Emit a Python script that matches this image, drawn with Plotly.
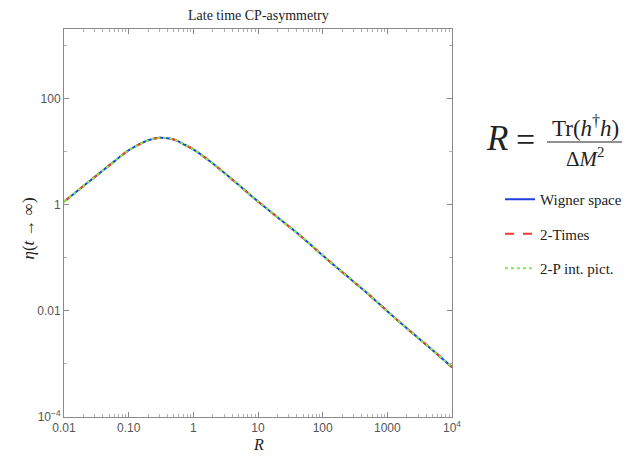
import plotly.graph_objects as go

# values
R_vals = [0.01, 0.02, 0.05, 0.1, 0.15, 0.2, 0.3, 0.5, 0.7, 1, 2, 5, 10, 20, 50,
          100, 200, 500, 1000, 2000, 5000, 10000]
eta_vals = [1.14, 2.25, 5.5, 10.6, 14.0, 16.4, 18.3, 16.9, 13.9, 11.0, 5.96, 2.37,
            1.15, 0.58, 0.234, 0.111, 0.0537, 0.0211, 0.0098, 0.00468, 0.00182, 0.00087]

x_tickvals = [0.01, 0.1, 1, 10, 100, 1000, 10000]
x_ticktext = ["0.01", "0.10", "1", "10", "100", "1000", "10<sup>4</sup>"]
y_tickvals = [1e-4, 0.01, 1, 100]
y_ticktext = ["10<sup>\u22124</sup>", "0.01", "1", "100"]

series = [
    ("Wigner space", "#1f3fe0", "solid"),
    ("2-Times", "#f03a32", "dash"),
    ("2-P int. pict.", "#7ef04a", "dot"),
]

# screen position of the plot area (page body keeps its 8px margin)
FW, FH = 615, 446
L, T, W, H = 64.0, 29.0, 388.0, 388.0


def px(x):
    return (x - L) / W


def py(y):
    return 1 - (y - T) / H


fig = go.Figure()
for i, (name, col, dash) in enumerate(series):
    fig.add_trace(go.Scatter(x=R_vals, y=eta_vals, mode="lines", name=name,
                             legendgroup=str(i),
                             line=dict(color=col, width=2, dash=dash, shape="spline")))

serif = "Liberation Serif"
axcol = "#8a8a8a"
tickfont = dict(family="Liberation Sans", size=12, color="#555555")

fig.update_xaxes(type="log", range=[-2, 4], tickvals=x_tickvals, ticktext=x_ticktext,
                 ticks="inside", ticklen=5, tickcolor=axcol, showline=True,
                 linecolor=axcol, linewidth=1, mirror="ticks", showgrid=False,
                 zeroline=False, tickfont=tickfont,
                 minor=dict(tickvals=[m * 10 ** e for e in range(-2, 4) for m in range(2, 10)],
                            ticks="inside", ticklen=3, tickcolor="#b0b0b0"))
fig.update_yaxes(type="log", range=[-4, 3.31], tickvals=y_tickvals, ticktext=y_ticktext,
                 ticks="inside", ticklen=5, tickcolor=axcol, showline=True,
                 linecolor=axcol, linewidth=1, mirror="ticks", showgrid=False,
                 zeroline=False, tickfont=tickfont,
                 minor=dict(tickvals=[1e-3, 0.1, 10, 1000], ticks="inside",
                            ticklen=3, tickcolor="#b0b0b0"))

anns = [
    dict(text="Late time CP-asymmetry", x=px(258), y=py(15.5), size=14, ya="middle"),
    dict(text="<i>R</i>", x=px(258), y=py(453.5), size=16, ya="bottom"),
    dict(text="<i>R</i>", x=px(497), y=py(138), size=35, ya="middle"),
    dict(text="=", x=px(525), y=py(139), size=34, ya="middle"),
    dict(text="Tr(<i>h</i><sup>\u2020</sup><i>h</i>)", x=px(585), y=py(142), size=23, ya="bottom"),
    dict(text="\u0394<i>M</i><sup>2</sup>", x=px(585), y=py(142.5), size=21, ya="top"),
]
for a in anns:
    fig.add_annotation(text=a["text"], x=a["x"], y=a["y"], xref="paper", yref="paper",
                       showarrow=False, xanchor="center", yanchor=a["ya"], borderpad=0,
                       font=dict(family=serif, size=a["size"], color="#222222"))
fig.add_annotation(text="<i>\u03b7</i>(<i>t</i> \u2192 \u221e)", x=px(17), y=py(229),
                   xref="paper", yref="paper", showarrow=False, textangle=-90,
                   font=dict(family=serif, size=17, color="#222222"))
fig.add_shape(type="line", xref="paper", yref="paper", x0=px(547), x1=px(622),
              y0=py(142), y1=py(142), line=dict(color="#222222", width=1.2))

fig.update_layout(
    width=FW, height=FH,
    margin=dict(l=56, r=171, t=21, b=37),
    plot_bgcolor="white", paper_bgcolor="white",
    # container-anchored legend so it does not push the margins
    legend=dict(xref="container", yref="container",
                x=(500 - 8) / FW, y=1 - (183 - 8) / FH, xanchor="left", yanchor="top",
                font=dict(family=serif, size=15, color="#222222"),
                tracegroupgap=12, bgcolor="rgba(0,0,0,0)"),
)

fig.write_html("out.html", config={"displayModeBar": False})
